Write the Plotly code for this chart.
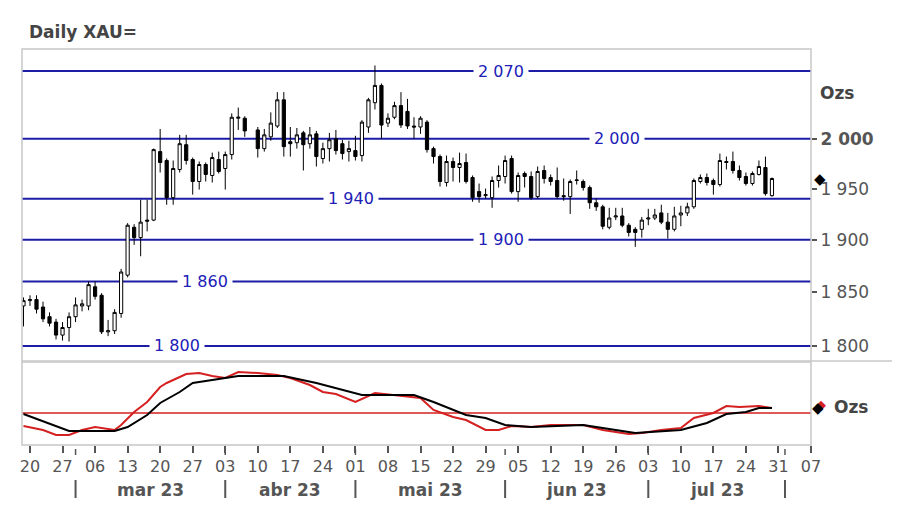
import math
import plotly.graph_objects as go

# ---------------- data ----------------
dates = ["2023-02-17",
         "2023-02-20", "2023-02-21", "2023-02-22", "2023-02-23", "2023-02-24",
         "2023-02-27", "2023-02-28", "2023-03-01", "2023-03-02", "2023-03-03",
         "2023-03-06", "2023-03-07", "2023-03-08", "2023-03-09", "2023-03-10",
         "2023-03-13", "2023-03-14", "2023-03-15", "2023-03-16", "2023-03-17",
         "2023-03-20", "2023-03-21", "2023-03-22", "2023-03-23", "2023-03-24",
         "2023-03-27", "2023-03-28", "2023-03-29", "2023-03-30", "2023-03-31",
         "2023-04-03", "2023-04-04", "2023-04-05", "2023-04-06",
         "2023-04-10", "2023-04-11", "2023-04-12", "2023-04-13", "2023-04-14",
         "2023-04-17", "2023-04-18", "2023-04-19", "2023-04-20", "2023-04-21",
         "2023-04-24", "2023-04-25", "2023-04-26", "2023-04-27", "2023-04-28",
         "2023-05-01", "2023-05-02", "2023-05-03", "2023-05-04", "2023-05-05",
         "2023-05-08", "2023-05-09", "2023-05-10", "2023-05-11", "2023-05-12",
         "2023-05-15", "2023-05-16", "2023-05-17", "2023-05-18", "2023-05-19",
         "2023-05-22", "2023-05-23", "2023-05-24", "2023-05-25", "2023-05-26",
         "2023-05-29", "2023-05-30", "2023-05-31", "2023-06-01", "2023-06-02",
         "2023-06-05", "2023-06-06", "2023-06-07", "2023-06-08", "2023-06-09",
         "2023-06-12", "2023-06-13", "2023-06-14", "2023-06-15", "2023-06-16",
         "2023-06-19", "2023-06-20", "2023-06-21", "2023-06-22", "2023-06-23",
         "2023-06-26", "2023-06-27", "2023-06-28", "2023-06-29", "2023-06-30",
         "2023-07-03", "2023-07-04", "2023-07-05", "2023-07-06", "2023-07-07",
         "2023-07-10", "2023-07-11", "2023-07-12", "2023-07-13", "2023-07-14",
         "2023-07-17", "2023-07-18", "2023-07-19", "2023-07-20", "2023-07-21",
         "2023-07-24", "2023-07-25", "2023-07-26", "2023-07-27", "2023-07-28"]

opens = [1837,
         1842, 1843, 1836, 1827, 1822,
         1810, 1817, 1827, 1837, 1837,
         1855, 1847, 1813, 1814, 1830,
         1866, 1912, 1902, 1919, 1919,
         1987, 1978, 1941, 1969, 1994,
         1979, 1957, 1974, 1963, 1979,
         1970, 1984, 2021, 2021,
         2009, 1990, 2002, 2013, 2040,
         1997, 1996, 2006, 1995, 2005,
         1980, 1990, 2000, 1995, 1987,
         1988, 1983, 2012, 2037, 2055,
         2016, 2022, 2034, 2028, 2013,
         2012, 2017, 1990, 1982, 1956,
         1977, 1971, 1976, 1961, 1947,
         1943, 1941, 1958, 1962, 1980,
         1947, 1965, 1962, 1942, 1968,
         1961, 1958, 1943, 1942, 1958,
         1957, 1951, 1936, 1932, 1912,
         1922, 1923, 1914, 1910, 1910,
         1920, 1921, 1926, 1917, 1910,
         1924, 1926, 1932, 1957, 1961,
         1958, 1954, 1977, 1977, 1968,
         1962, 1955, 1964, 1971, 1943]

highs = [1845,
         1847, 1847, 1841, 1831, 1825,
         1822, 1831, 1845, 1843, 1860,
         1860, 1849, 1824, 1834, 1872,
         1916, 1915, 1939, 1939, 1990,
         2010, 1980, 1978, 2004, 2004,
         1981, 1977, 1976, 1986, 1987,
         1987, 2026, 2032, 2023,
         2012, 2010, 2027, 2048, 2048,
         2012, 2011, 2008, 2012, 2008,
         1996, 2006, 2009, 1999, 1998,
         2003, 2019, 2042, 2076, 2057,
         2026, 2038, 2048, 2041, 2022,
         2023, 2019, 1992, 1984, 1983,
         1981, 1986, 1985, 1963, 1955,
         1950, 1962, 1973, 1983, 1983,
         1966, 1967, 1967, 1972, 1973,
         1964, 1971, 1960, 1959, 1968,
         1959, 1953, 1940, 1934, 1931,
         1931, 1931, 1916, 1912, 1922,
         1930, 1930, 1934, 1926, 1932,
         1933, 1936, 1960, 1964, 1965,
         1960, 1985, 1982, 1987, 1973,
         1966, 1967, 1978, 1982, 1961]

lows = [1818,
        1837, 1830, 1822, 1818, 1806,
        1805, 1804, 1822, 1832, 1833,
        1843, 1811, 1809, 1811, 1826,
        1864, 1895, 1884, 1908, 1918,
        1966, 1934, 1934, 1966, 1974,
        1944, 1949, 1957, 1956, 1965,
        1949, 1979, 2009, 2002,
        1981, 1987, 1998, 2011, 1982,
        1982, 1990, 1968, 1990, 1972,
        1975, 1977, 1984, 1979, 1977,
        1978, 1977, 2006, 2030, 2000,
        2012, 2020, 2011, 2010, 2000,
        2005, 1986, 1975, 1952, 1952,
        1957, 1956, 1955, 1937, 1936,
        1940, 1931, 1951, 1955, 1945,
        1937, 1951, 1939, 1940, 1955,
        1953, 1940, 1938, 1925, 1954,
        1948, 1930, 1928, 1910, 1910,
        1919, 1912, 1903, 1893, 1902,
        1914, 1919, 1915, 1901, 1908,
        1913, 1923, 1930, 1955, 1953,
        1944, 1952, 1969, 1965, 1958,
        1953, 1953, 1963, 1943, 1942]

closes = [1842,
          1843, 1834, 1825, 1821, 1810,
          1817, 1827, 1838, 1839, 1857,
          1846, 1813, 1814, 1831, 1869,
          1914, 1902, 1917, 1918, 1989,
          1976, 1941, 1970, 1995, 1978,
          1957, 1974, 1964, 1981, 1967,
          1984, 2022, 2022, 2008,
          1990, 2004, 2016, 2040, 1992,
          1995, 2004, 1994, 2004, 1982,
          1990, 1999, 1988, 1985, 1990,
          1982, 2017, 2040, 2055, 2014,
          2021, 2034, 2014, 2013, 2012,
          2021, 1989, 1982, 1957, 1977,
          1971, 1975, 1957, 1941, 1942,
          1944, 1958, 1963, 1978, 1947,
          1963, 1962, 1941, 1967, 1960,
          1957, 1942, 1942, 1957, 1958.5,
          1951, 1936, 1932, 1913, 1921,
          1923, 1914, 1907, 1907, 1919,
          1921, 1924, 1917, 1910, 1923,
          1926, 1932, 1958, 1961, 1956,
          1954, 1978, 1976, 1968, 1961,
          1955, 1965, 1972, 1945, 1960]

osc_black_dates = ["2023-02-17", "2023-02-22", "2023-02-28", "2023-03-09", "2023-03-13",
                   "2023-03-16", "2023-03-20", "2023-03-23", "2023-03-27", "2023-03-31",
                   "2023-04-05", "2023-04-14", "2023-04-21", "2023-05-02", "2023-05-12",
                   "2023-05-17", "2023-05-19", "2023-05-24", "2023-05-29", "2023-06-01",
                   "2023-06-07", "2023-06-19", "2023-06-22", "2023-06-29", "2023-07-10",
                   "2023-07-14", "2023-07-19", "2023-07-24", "2023-07-26", "2023-07-28"]
osc_black = [-0.1, -0.8, -1.8, -1.8, -1.4,
             -0.2, 1.0, 2.1, 3.0, 3.4,
             3.7, 3.7, 3.0, 1.8, 1.8,
             1.1, 0.6, -0.2, -0.5, -1.2,
             -1.4, -1.2, -1.5, -2.0, -1.7,
             -1.0, -0.1, 0.1, 0.5, 0.5]

osc_red_dates = ["2023-02-17", "2023-02-22", "2023-02-24", "2023-02-28", "2023-03-02",
                 "2023-03-06", "2023-03-09", "2023-03-10", "2023-03-14", "2023-03-16",
                 "2023-03-20", "2023-03-21", "2023-03-24", "2023-03-28", "2023-03-30",
                 "2023-04-03", "2023-04-05", "2023-04-10", "2023-04-13", "2023-04-17",
                 "2023-04-20", "2023-04-24", "2023-04-26", "2023-05-01", "2023-05-04",
                 "2023-05-10", "2023-05-15", "2023-05-17", "2023-05-22", "2023-05-24",
                 "2023-05-29", "2023-05-31", "2023-06-02", "2023-06-07", "2023-06-12",
                 "2023-06-19", "2023-06-22", "2023-06-28", "2023-06-30", "2023-07-05",
                 "2023-07-10", "2023-07-12", "2023-07-17", "2023-07-19", "2023-07-21",
                 "2023-07-26", "2023-07-28"]
osc_red = [-1.3, -1.7, -2.2, -2.2, -1.7,
           -1.4, -1.7, -1.2, 0.1, 1.1,
           2.6, 3.0, 3.9, 4.0, 3.7,
           3.5, 4.1, 4.0, 3.8, 3.5,
           2.8, 2.1, 1.9, 1.1, 2.0,
           1.7, 1.5, 0.3, -0.4, -0.7,
           -1.7, -1.7, -1.3, -1.4, -1.2,
           -1.2, -1.7, -2.1, -2.0, -1.7,
           -1.5, -0.5, 0.0, 0.7, 0.6,
           0.7, 0.5]

level_values = [2070, 2000, 1940, 1900, 1860, 1800]
level_labels = ["2 070", "2 000", "1 940", "1 900", "1 860", "1 800"]

y_tick_values = [1800, 1850, 1900, 1950, 2000]
y_tick_labels = ["1 800", "1 850", "1 900", "1 950", "<b>2 000</b>"]

x_tick_dates = ["2023-02-20", "2023-02-27", "2023-03-06", "2023-03-13", "2023-03-20",
                "2023-03-27", "2023-04-03", "2023-04-10", "2023-04-17", "2023-04-24",
                "2023-05-01", "2023-05-08", "2023-05-15", "2023-05-22", "2023-05-29",
                "2023-06-05", "2023-06-12", "2023-06-19", "2023-06-26", "2023-07-03",
                "2023-07-10", "2023-07-17", "2023-07-24", "2023-07-31", "2023-08-07"]
x_tick_labels = ["20", "27", "06", "13", "20", "27", "03", "10", "17", "24", "01", "08",
                 "15", "22", "29", "05", "12", "19", "26", "03", "10", "17", "24", "31", "07"]

month_names = ["mar 23", "abr 23", "mai 23", "jun 23", "jul 23"]
month_centers = ["2023-03-16 12:00", "2023-04-17", "2023-05-16 12:00", "2023-06-16", "2023-07-17 12:00"]
month_separators = ["2023-03-01", "2023-04-03", "2023-05-01", "2023-06-01", "2023-07-03", "2023-08-01"]

last_price = 1960
last_osc = 0.5

# ---------------- style ----------------
FONT = "DejaVu Sans"
GREY = "#555555"
BORDER = "#c8c8c8"
BLUE_LINE = "#1c1ca6"
BLUE_TEXT = "#2020b8"
RED = "#d42020"
label_x = [0.6068, 0.7547, 0.4172, 0.6068, 0.2314, 0.1960]

OFF = 8  # the page body has an 8px margin
W, H = 900 - OFF, 506 - OFF
L, T = 20 - OFF, 49 - OFF
R = W - (811 - OFF)
B = H - (445 - OFF)
plot_h = H - T - B
plot_w = W - L - R
main_dom = [0.2121, 1.0]
low_dom = [0.0, 0.2096]


def py(pix):
    return (H - B - (pix - OFF)) / plot_h


def px(pix):
    return ((pix - OFF) - L) / plot_w


fig = go.Figure()

fig.add_trace(go.Candlestick(
    x=dates, open=opens, high=highs, low=lows, close=closes,
    increasing=dict(line=dict(color="black", width=1), fillcolor="white"),
    decreasing=dict(line=dict(color="black", width=1), fillcolor="black"),
    whiskerwidth=0, xaxis="x", yaxis="y", showlegend=False, hoverinfo="skip"))

fig.add_trace(go.Scatter(x=osc_red_dates, y=osc_red, mode="lines",
                         line=dict(color=RED, width=2), xaxis="x", yaxis="y2",
                         showlegend=False, hoverinfo="skip"))
fig.add_trace(go.Scatter(x=osc_black_dates, y=osc_black, mode="lines",
                         line=dict(color="black", width=2), xaxis="x", yaxis="y2",
                         showlegend=False, hoverinfo="skip"))

shapes = []
annotations = []

# horizontal blue levels
for v, lab, lx in zip(level_values, level_labels, label_x):
    shapes.append(dict(type="line", xref="paper", x0=0, x1=1, yref="y", y0=v, y1=v,
                       line=dict(color=BLUE_LINE, width=2), layer="below"))
    annotations.append(dict(xref="paper", x=lx, yref="y", y=math.log10(v), text=lab,
                            showarrow=False, bgcolor="white", borderpad=4,
                            font=dict(family=FONT, size=16, color=BLUE_TEXT),
                            xanchor="center", yanchor="middle"))

# red zero line on oscillator
shapes.append(dict(type="line", xref="paper", x0=0, x1=1, yref="y2", y0=0, y1=0,
                   line=dict(color=RED, width=1.5), layer="below"))

# panel borders
shapes.append(dict(type="rect", xref="paper", yref="paper", x0=0, x1=1,
                   y0=main_dom[0], y1=main_dom[1], line=dict(color=BORDER, width=1.5)))
shapes.append(dict(type="rect", xref="paper", yref="paper", x0=0, x1=1,
                   y0=low_dom[0], y1=low_dom[1], line=dict(color=BORDER, width=1.5)))
shapes.append(dict(type="line", xref="paper", yref="paper", x0=1, x1=px(900),
                   y0=main_dom[0], y1=main_dom[0], line=dict(color=BORDER, width=1.5)))

# month separators and labels
for d in month_separators:
    shapes.append(dict(type="line", xref="x", x0=d, x1=d, yref="paper",
                       y0=py(449), y1=py(455), line=dict(color=GREY, width=1.5)))
    shapes.append(dict(type="line", xref="x", x0=d, x1=d, yref="paper",
                       y0=py(480), y1=py(498), line=dict(color=GREY, width=2)))
for name, c in zip(month_names, month_centers):
    annotations.append(dict(xref="x", x=c, yref="paper", y=py(490), text="<b>%s</b>" % name,
                            showarrow=False, font=dict(family=FONT, size=17, color=GREY),
                            xanchor="center", yanchor="middle"))

# title
annotations.append(dict(xref="paper", x=px(25), yref="paper", y=py(32), text="<b>Daily XAU=</b>",
                        showarrow=False, font=dict(family=FONT, size=17, color="#444444"),
                        xanchor="left", yanchor="middle"))
# Ozs labels
annotations.append(dict(xref="paper", x=px(818), yref="paper", y=py(93), text="<b>Ozs</b>",
                        showarrow=False, font=dict(family=FONT, size=17, color="#444444"),
                        xanchor="left", yanchor="middle"))
annotations.append(dict(xref="paper", x=px(832), yref="paper", y=py(407), text="<b>Ozs</b>",
                        showarrow=False, font=dict(family=FONT, size=17, color="#444444"),
                        xanchor="left", yanchor="middle"))
# diamond markers
annotations.append(dict(xref="paper", x=px(820), yref="y", y=math.log10(last_price), text="◆",
                        showarrow=False, font=dict(family=FONT, size=15, color="black"),
                        xanchor="center", yanchor="middle"))
annotations.append(dict(xref="paper", x=px(821), yref="y2", y=last_osc + 0.3, text="◆",
                        showarrow=False, font=dict(family=FONT, size=13, color=RED),
                        xanchor="center", yanchor="middle"))
annotations.append(dict(xref="paper", x=px(818), yref="y2", y=last_osc, text="◆",
                        showarrow=False, font=dict(family=FONT, size=15, color="black"),
                        xanchor="center", yanchor="middle"))

fig.update_layout(
    width=W, height=H,
    margin=dict(l=L, r=R, t=T, b=B),
    paper_bgcolor="white", plot_bgcolor="white",
    showlegend=False,
    font=dict(family=FONT, color=GREY),
    xaxis=dict(type="date", range=["2023-02-16 18:30", "2023-08-07"],
               rangebreaks=[dict(bounds=["sat", "mon"])],
               tickvals=x_tick_dates, ticktext=x_tick_labels,
               ticks="outside", ticklen=7, tickwidth=1.5, tickcolor=GREY,
               tickfont=dict(family=FONT, size=16, color=GREY),
               showgrid=False, zeroline=False, showline=False,
               anchor="y2", rangeslider=dict(visible=False)),
    yaxis=dict(type="log", domain=main_dom,
               range=[math.log10(1786.3), math.log10(2093.4)],
               side="right", tickvals=y_tick_values, ticktext=y_tick_labels,
               ticks="outside", ticklen=5, tickwidth=1.5, tickcolor=GREY,
               tickfont=dict(family=FONT, size=17, color=GREY),
               showgrid=False, zeroline=False, showline=False, anchor="x"),
    yaxis2=dict(domain=low_dom, range=[-3.2, 5.1], showticklabels=False,
                showgrid=False, zeroline=False, showline=False, ticks="", anchor="x"),
    shapes=shapes,
    annotations=annotations,
)

fig.write_html("out.html")
